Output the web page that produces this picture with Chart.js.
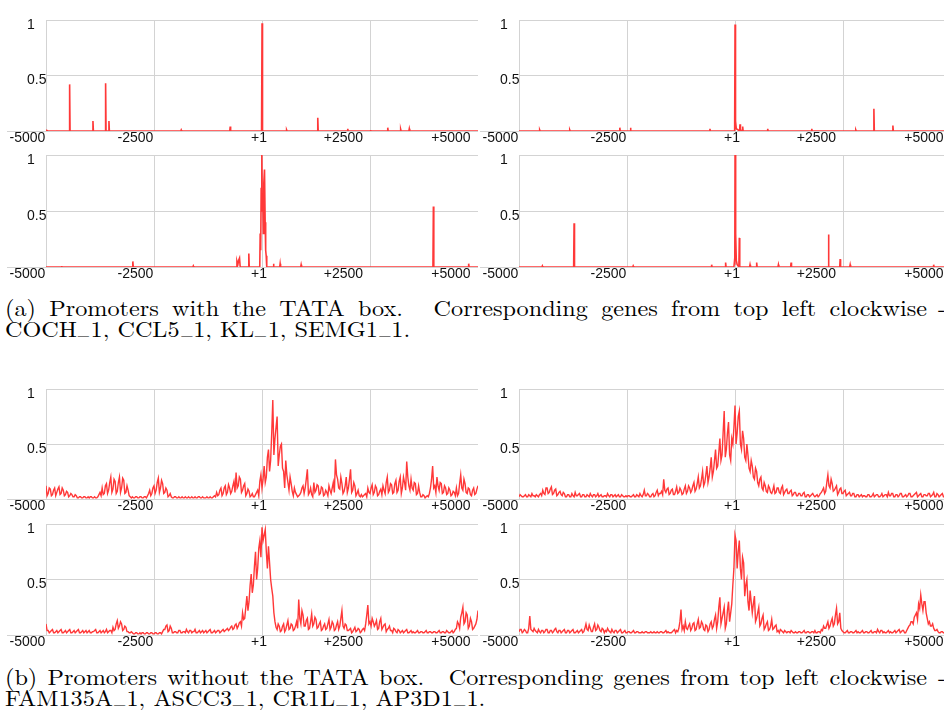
<!DOCTYPE html>
<html><head><meta charset="utf-8">
<script src="https://cdn.jsdelivr.net/npm/chart.js@4.4.0/dist/chart.umd.min.js"></script>
<style>
html,body{margin:0;padding:0;background:#fff;overflow:hidden;width:944px;height:716px;position:relative;}
.panel{position:absolute;}
.cap{position:absolute;left:5px;display:inline-block;font-family:"Latin Modern Roman","CMU Serif","Liberation Serif",serif;font-size:22px;line-height:22px;white-space:nowrap;color:#000;transform-origin:0 0;}
.us{display:inline-block;transform:translateY(-0.13em) scaleX(0.62);margin:0 -0.095em;}
</style></head><body>
<canvas id="c1" class="panel"></canvas>
<canvas id="c2" class="panel"></canvas>
<canvas id="c3" class="panel"></canvas>
<canvas id="c4" class="panel"></canvas>
<canvas id="c5" class="panel"></canvas>
<canvas id="c6" class="panel"></canvas>
<canvas id="c7" class="panel"></canvas>
<canvas id="c8" class="panel"></canvas>
<span class="cap" id="a1">(a) Promoters with the TATA box.&nbsp; Corresponding genes from top left clockwise</span>
<span class="cap" id="a1d">-</span>
<span class="cap" id="a2">COCH<span class="us">_</span>1, CCL5<span class="us">_</span>1, KL<span class="us">_</span>1, SEMG1<span class="us">_</span>1.</span>
<span class="cap" id="b1">(b) Promoters without the TATA box.&nbsp; Corresponding genes from top left clockwise</span>
<span class="cap" id="b1d">-</span>
<span class="cap" id="b2">FAM135A<span class="us">_</span>1, ASCC3<span class="us">_</span>1, CR1L<span class="us">_</span>1, AP3D1<span class="us">_</span>1.</span>
<script>
// ---------- tick labels ----------
const xTickValues = [-5000, -2500, 1, 2500, 5000];
const xTickLabels = ['-5000', '-2500', '+1', '+2500', '+5000'];
const yTickValues = [0, 0.5, 1];
const yTickLabels = ['', '0.5', '1'];

// ---------- TATA-box promoters (sparse spikes), [position, value] ----------
const cochPts = [[-5000,0.01],[-4960,0],[-4463,0],[-4453,0.42],[-4443,0],[-3923,0],[-3913,0.09],[-3903,0],
 [-3630,0],[-3620,0.43],[-3610,0],[-3553,0],[-3543,0.09],[-3533,0],[-1880,0],[-1870,0.01],[-1860,0],
 [-746,0],[-736,0.04],[-726,0],[-10,0],[1,0.97],[12,0],[560,0],[570,0.01],[580,0],
 [1281,0],[1291,0.12],[1301,0],[1975,0],[1985,0.02],[1995,0],[2500,0],[2510,0.01],[2520,0],
 [2901,0],[2911,0.03],[2921,0],[3200,0],[3210,0.015],[3220,0],[3400,0],[3410,0.02],[3420,0],[5000,0]];
const ccl5Pts = [[-5000,0],[-4531,0],[-4521,0.01],[-4511,0],[-3835,0],[-3825,0.01],[-3815,0],
 [-2676,0],[-2666,0.03],[-2656,0],[-2429,0],[-2419,0.03],[-2409,0],[-590,0],[-580,0.02],[-570,0],
 [-8,0],[1,0.96],[12,0.09],[30,0.02],[106,0],[116,0.06],[126,0.01],[168,0],[178,0.04],[188,0],
 [747,0],[757,0.02],[767,0],[1767,0],[1777,0.02],[1787,0],[2787,0],[2797,0.01],[2807,0],
 [3205,0],[3215,0.2],[3225,0],[3645,0],[3655,0.05],[3665,0],[5000,0]];
const klPts = [[-5000,0],[-4469,0],[-4459,0.01],[-4449,0],[-3735,0],[-3725,0.39],[-3715,0],
 [-2367,0],[-2357,0.01],[-2347,0],[-551,0],[-541,0.02],[-531,0],[-227,0],[-217,0.04],[-207,0],
 [-25,0],[-15,0.04],[-5,0.02],[1,1.0],[15,0.3],[30,0.06],[50,0.02],[90,0],[100,0.26],[110,0],
 [338,0],[348,0.02],[358,0],[492,0],[502,0.04],[512,0],[995,0],[1005,0.02],[1015,0],
 [1288,0],[1298,0.04],[1308,0],[2154,0],[2164,0.29],[2174,0],[2424,0],[2434,0.07],[2444,0],
 [2656,0],[2666,0.02],[2676,0],[4588,0],[4598,0.02],[4608,0],[5000,0]];
const semg1Pts = [[-5000,0],[-4650,0],[-4640,0.01],[-4630,0],[-3000,0],[-2990,0.05],[-2980,0],
 [-1600,0],[-1590,0.01],[-1580,0],[-590,0],[-580,0.05],[-560,0.02],[-540,0.06],[-520,0.08],[-505,0],
 [-315,0],[-305,0.12],[-295,0],[-52,0],[-42,0.3],[-30,0.15],[-19,0.7],[-4,1.0],[8,0.5],[19,0.6],
 [30,0.3],[42,0.75],[58,0.87],[73,0.4],[85,0.15],[97,0.1],[110,0],[256,0],[266,0.03],[276,0],
 [410,0],[420,0.03],[430,0],[896,0],[906,0.02],[916,0],[3957,0],[3967,0.54],[3977,0],
 [4774,0],[4784,0.03],[4794,0],[5000,0]];

// ---------- promoters without TATA box ----------
// values at -5000, -4950, ... +5000 (every 50 bp)
const fam135aVals = [
 0.12,0.05,0.09,0.04,0.1,0.06,0.11,0.05,0.08,0.04,
 0.06,0.03,0.04,0.02,0.03,0.01,0.02,0.01,0.02,0.01,
 0.01,0.02,0.01,0.01,0.02,0.06,0.1,0.05,0.14,0.08,
 0.2,0.09,0.16,0.07,0.2,0.1,0.17,0.06,0.08,0.02,
 0.02,0.01,0.02,0.01,0.02,0.01,0.02,0.03,0.08,0.05,
 0.12,0.08,0.19,0.1,0.14,0.06,0.08,0.03,0.02,0.01,
 0.02,0.01,0.01,0.02,0.01,0.01,0.02,0.01,0.01,0.02,
 0.01,0.02,0.01,0.01,0.01,0.01,0.02,0.01,0.03,0.06,
 0.04,0.1,0.05,0.12,0.06,0.1,0.07,0.16,0.24,0.12,
 0.18,0.08,0.14,0.05,0.07,0.03,0.02,0.04,0.08,0.16,
 0.1,0.3,0.2,0.45,0.35,0.9,0.55,0.75,0.4,0.5,
 0.25,0.35,0.15,0.2,0.07,0.1,0.04,0.03,0.06,0.12,
 0.1,0.27,0.06,0.04,0.15,0.08,0.12,0.05,0.1,0.04,
 0.06,0.12,0.05,0.15,0.36,0.18,0.09,0.14,0.07,0.2,
 0.1,0.27,0.08,0.12,0.05,0.03,0.04,0.03,0.05,0.1,
 0.05,0.13,0.06,0.1,0.04,0.09,0.12,0.05,0.2,0.08,
 0.13,0.06,0.17,0.08,0.2,0.1,0.15,0.34,0.12,0.18,
 0.08,0.14,0.05,0.06,0.02,0.03,0.02,0.02,0.1,0.3,
 0.12,0.2,0.08,0.14,0.06,0.1,0.05,0.08,0.04,0.06,
 0.1,0.05,0.22,0.08,0.14,0.05,0.09,0.03,0.1,0.05,
 0.12];
// values at -4975, -4925, ... +4975 (between the 50 bp points)
const fam135aMid = [
 0.03,0.1,0.03,0.08,0.03,0.09,0.04,0.1,0.03,0.07,
 0.02,0.05,0.02,0.04,0.01,0.02,0.01,0.02,0.01,0.02,
 0.02,0.01,0.02,0.01,0.04,0.03,0.04,0.12,0.05,0.15,
 0.06,0.18,0.05,0.15,0.06,0.19,0.05,0.12,0.03,0.01,
 0.01,0.02,0.01,0.02,0.01,0.02,0.01,0.05,0.03,0.1,
 0.05,0.15,0.06,0.17,0.05,0.1,0.02,0.05,0.01,0.02,
 0.01,0.02,0.01,0.01,0.02,0.01,0.01,0.02,0.01,0.01,
 0.02,0.01,0.02,0.01,0.02,0.01,0.01,0.02,0.02,0.03,
 0.08,0.03,0.1,0.04,0.13,0.05,0.12,0.06,0.1,0.2,
 0.06,0.12,0.03,0.09,0.02,0.05,0.02,0.06,0.03,0.22,
 0.18,0.15,0.38,0.25,0.6,0.4,0.65,0.3,0.48,0.28,
 0.1,0.22,0.08,0.14,0.03,0.06,0.02,0.04,0.1,0.05,
 0.18,0.04,0.1,0.02,0.06,0.13,0.04,0.11,0.03,0.08,
 0.03,0.08,0.1,0.06,0.22,0.1,0.2,0.05,0.12,0.06,
 0.18,0.06,0.15,0.03,0.08,0.02,0.02,0.04,0.02,0.06,
 0.1,0.04,0.12,0.03,0.07,0.04,0.08,0.15,0.06,0.14,
 0.05,0.14,0.06,0.16,0.05,0.2,0.08,0.2,0.08,0.1,
 0.15,0.04,0.12,0.02,0.04,0.01,0.03,0.05,0.18,0.1,
 0.06,0.12,0.15,0.05,0.12,0.04,0.1,0.03,0.07,0.03,
 0.03,0.14,0.1,0.18,0.06,0.1,0.04,0.08,0.04,0.09];
const ascc3Vals = [
 0.02,0.03,0.02,0.04,0.02,0.03,0.05,0.03,0.04,0.02,
 0.05,0.08,0.04,0.1,0.06,0.11,0.05,0.09,0.04,0.07,
 0.03,0.05,0.02,0.04,0.02,0.03,0.06,0.03,0.05,0.02,
 0.04,0.02,0.03,0.05,0.02,0.04,0.03,0.02,0.04,0.02,
 0.03,0.05,0.02,0.04,0.03,0.02,0.04,0.02,0.03,0.02,
 0.02,0.03,0.02,0.04,0.02,0.03,0.05,0.02,0.08,0.03,
 0.04,0.02,0.05,0.03,0.08,0.05,0.07,0.18,0.06,0.1,
 0.05,0.09,0.04,0.11,0.06,0.08,0.05,0.12,0.07,0.1,
 0.08,0.15,0.09,0.2,0.12,0.25,0.15,0.3,0.2,0.38,
 0.25,0.45,0.3,0.55,0.4,0.8,0.45,0.7,0.35,0.5,
 0.85,0.6,0.8,0.45,0.55,0.35,0.4,0.25,0.3,0.18,
 0.25,0.12,0.2,0.08,0.12,0.06,0.1,0.05,0.12,0.06,
 0.1,0.05,0.12,0.06,0.09,0.05,0.08,0.04,0.06,0.03,
 0.05,0.03,0.06,0.02,0.04,0.03,0.05,0.02,0.04,0.03,
 0.06,0.1,0.07,0.22,0.1,0.14,0.08,0.12,0.06,0.1,
 0.05,0.08,0.04,0.06,0.03,0.05,0.02,0.04,0.03,0.02,
 0.03,0.02,0.04,0.02,0.05,0.03,0.04,0.02,0.05,0.03,
 0.04,0.06,0.03,0.05,0.02,0.04,0.03,0.05,0.02,0.04,
 0.03,0.05,0.02,0.04,0.06,0.03,0.05,0.02,0.04,0.03,
 0.05,0.03,0.06,0.02,0.04,0.03,0.05,0.02,0.04,0.03,
 0.04];
const ascc3Mid = [
 0.04,0.02,0.03,0.02,0.04,0.02,0.03,0.02,0.03,0.04,
 0.03,0.05,0.1,0.05,0.09,0.04,0.08,0.03,0.06,0.04,
 0.06,0.02,0.04,0.02,0.05,0.02,0.03,0.04,0.02,0.04,
 0.02,0.04,0.02,0.03,0.04,0.02,0.05,0.03,0.02,0.03,
 0.02,0.03,0.04,0.02,0.04,0.03,0.02,0.04,0.02,0.03,
 0.03,0.02,0.03,0.02,0.04,0.02,0.03,0.04,0.03,0.05,
 0.02,0.04,0.02,0.06,0.03,0.05,0.04,0.08,0.09,0.04,
 0.08,0.04,0.07,0.05,0.1,0.04,0.09,0.05,0.12,0.06,
 0.12,0.07,0.14,0.1,0.18,0.12,0.22,0.15,0.28,0.2,
 0.35,0.28,0.42,0.35,0.6,0.38,0.6,0.4,0.55,0.65,
 0.5,0.75,0.5,0.62,0.38,0.5,0.28,0.35,0.2,0.28,
 0.15,0.18,0.1,0.15,0.07,0.12,0.06,0.08,0.05,0.1,
 0.06,0.1,0.04,0.08,0.05,0.07,0.03,0.06,0.03,0.05,
 0.03,0.05,0.02,0.04,0.02,0.04,0.03,0.03,0.02,0.05,
 0.08,0.05,0.15,0.12,0.18,0.07,0.1,0.04,0.09,0.05,
 0.07,0.03,0.05,0.03,0.05,0.02,0.04,0.02,0.04,0.03,
 0.02,0.04,0.02,0.03,0.02,0.04,0.02,0.03,0.02,0.04,
 0.02,0.03,0.05,0.02,0.04,0.02,0.05,0.02,0.03,0.02,
 0.05,0.02,0.03,0.05,0.02,0.04,0.02,0.04,0.03,0.05,
 0.02,0.04,0.02,0.05,0.02,0.04,0.02,0.03,0.02,0.05];
const ap3d1Vals = [
 0.1,0.04,0.03,0.05,0.02,0.04,0.03,0.05,0.02,0.04,
 0.03,0.05,0.02,0.04,0.03,0.05,0.02,0.04,0.03,0.02,
 0.04,0.02,0.03,0.05,0.02,0.04,0.03,0.02,0.05,0.03,
 0.04,0.07,0.05,0.13,0.08,0.1,0.05,0.07,0.03,0.02,
 0.02,0.01,0.02,0.01,0.01,0.02,0.01,0.02,0.01,0.02,
 0.01,0.02,0.01,0.02,0.03,0.05,0.09,0.04,0.06,0.02,
 0.03,0.02,0.04,0.02,0.03,0.05,0.02,0.04,0.03,0.05,
 0.02,0.04,0.03,0.02,0.04,0.03,0.05,0.02,0.04,0.03,
 0.04,0.03,0.05,0.04,0.06,0.05,0.08,0.06,0.1,0.08,
 0.12,0.2,0.15,0.35,0.3,0.55,0.45,0.75,0.6,0.85,
 0.97,0.9,0.75,0.8,0.5,0.35,0.12,0.05,0.08,0.04,
 0.1,0.05,0.13,0.06,0.09,0.05,0.12,0.32,0.1,0.18,
 0.08,0.15,0.06,0.19,0.1,0.14,0.07,0.12,0.05,0.1,
 0.06,0.14,0.07,0.1,0.05,0.12,0.08,0.22,0.06,0.09,
 0.04,0.06,0.03,0.07,0.04,0.05,0.03,0.06,0.1,0.27,
 0.12,0.15,0.08,0.13,0.06,0.15,0.07,0.1,0.05,0.08,
 0.04,0.06,0.03,0.05,0.02,0.04,0.03,0.05,0.02,0.04,
 0.03,0.02,0.04,0.02,0.03,0.02,0.04,0.02,0.03,0.02,
 0.03,0.02,0.04,0.02,0.03,0.02,0.03,0.02,0.04,0.03,
 0.06,0.1,0.16,0.25,0.12,0.18,0.08,0.12,0.06,0.1,
 0.22];
const ap3d1Mid = [
 0.04,0.02,0.04,0.02,0.03,0.02,0.04,0.02,0.03,0.02,
 0.04,0.02,0.03,0.02,0.04,0.02,0.03,0.02,0.04,0.03,
 0.02,0.03,0.04,0.02,0.03,0.02,0.04,0.03,0.02,0.04,
 0.02,0.04,0.1,0.06,0.12,0.04,0.08,0.03,0.02,0.03,
 0.01,0.02,0.01,0.02,0.02,0.01,0.02,0.01,0.02,0.01,
 0.02,0.01,0.02,0.01,0.05,0.08,0.03,0.08,0.02,0.03,
 0.02,0.04,0.02,0.03,0.02,0.03,0.04,0.02,0.03,0.02,
 0.03,0.02,0.04,0.03,0.02,0.04,0.02,0.03,0.02,0.04,
 0.02,0.04,0.03,0.05,0.04,0.07,0.05,0.09,0.06,0.11,
 0.08,0.14,0.25,0.22,0.45,0.38,0.62,0.5,0.78,0.7,
 0.85,0.95,0.6,0.65,0.42,0.2,0.07,0.1,0.03,0.08,
 0.03,0.09,0.05,0.1,0.04,0.08,0.06,0.15,0.22,0.08,
 0.13,0.05,0.12,0.08,0.16,0.06,0.1,0.04,0.08,0.05,
 0.1,0.05,0.12,0.04,0.09,0.05,0.15,0.08,0.1,0.04,
 0.05,0.02,0.05,0.03,0.06,0.02,0.05,0.04,0.18,0.1,
 0.08,0.12,0.1,0.05,0.12,0.05,0.09,0.03,0.06,0.04,
 0.02,0.05,0.02,0.04,0.03,0.02,0.04,0.02,0.03,0.02,
 0.02,0.03,0.02,0.03,0.02,0.03,0.02,0.03,0.02,0.03,
 0.02,0.03,0.02,0.03,0.02,0.04,0.02,0.03,0.02,0.05,
 0.12,0.06,0.2,0.1,0.2,0.06,0.15,0.05,0.08,0.14];
const cr1lVals = [
 0.03,0.05,0.03,0.04,0.02,0.17,0.04,0.06,0.03,0.05,
 0.02,0.04,0.03,0.05,0.02,0.04,0.03,0.06,0.02,0.04,
 0.03,0.05,0.02,0.04,0.03,0.05,0.02,0.04,0.03,0.05,
 0.03,0.1,0.04,0.06,0.03,0.1,0.05,0.07,0.03,0.05,
 0.04,0.06,0.03,0.05,0.02,0.04,0.03,0.05,0.02,0.04,
 0.02,0.03,0.02,0.04,0.02,0.03,0.02,0.03,0.02,0.03,
 0.02,0.03,0.02,0.02,0.03,0.02,0.03,0.02,0.04,0.03,
 0.02,0.03,0.05,0.04,0.06,0.23,0.08,0.12,0.05,0.1,
 0.06,0.11,0.05,0.14,0.07,0.1,0.04,0.08,0.05,0.12,
 0.08,0.18,0.12,0.34,0.15,0.25,0.1,0.3,0.2,0.45,
 0.9,0.6,0.85,0.5,0.65,0.45,0.3,0.4,0.2,0.35,
 0.15,0.25,0.1,0.18,0.07,0.12,0.05,0.14,0.06,0.09,
 0.04,0.05,0.03,0.04,0.02,0.03,0.04,0.02,0.03,0.02,
 0.03,0.02,0.04,0.02,0.03,0.02,0.03,0.04,0.02,0.03,
 0.05,0.08,0.06,0.12,0.08,0.15,0.1,0.24,0.12,0.06,
 0.03,0.02,0.04,0.02,0.03,0.02,0.04,0.03,0.02,0.04,
 0.02,0.03,0.02,0.04,0.02,0.03,0.05,0.02,0.04,0.03,
 0.02,0.04,0.03,0.02,0.04,0.03,0.05,0.03,0.04,0.02,
 0.06,0.09,0.12,0.16,0.2,0.28,0.36,0.22,0.3,0.15,
 0.12,0.08,0.06,0.04,0.03,0.02,0.03,0.02,0.03,0.02,
 0.02];
const cr1lMid = [
 0.05,0.02,0.05,0.02,0.06,0.05,0.03,0.04,0.02,0.03,
 0.04,0.02,0.05,0.02,0.04,0.02,0.05,0.03,0.04,0.02,
 0.04,0.02,0.04,0.02,0.04,0.02,0.03,0.02,0.04,0.02,
 0.06,0.05,0.09,0.03,0.07,0.04,0.09,0.04,0.06,0.02,
 0.03,0.04,0.02,0.03,0.04,0.02,0.04,0.02,0.03,0.02,
 0.03,0.02,0.03,0.02,0.03,0.02,0.02,0.02,0.03,0.02,
 0.02,0.02,0.03,0.02,0.02,0.03,0.02,0.03,0.02,0.02,
 0.02,0.04,0.02,0.03,0.12,0.05,0.04,0.06,0.08,0.04,
 0.1,0.04,0.1,0.06,0.12,0.05,0.09,0.03,0.1,0.06,
 0.14,0.06,0.25,0.1,0.2,0.06,0.22,0.12,0.28,0.6,
 0.85,0.75,0.6,0.7,0.35,0.5,0.22,0.3,0.28,0.12,
 0.2,0.08,0.15,0.05,0.1,0.04,0.08,0.05,0.08,0.03,
 0.02,0.04,0.02,0.03,0.03,0.02,0.03,0.02,0.02,0.03,
 0.02,0.03,0.02,0.03,0.02,0.03,0.02,0.02,0.03,0.02,
 0.04,0.06,0.09,0.06,0.12,0.08,0.18,0.1,0.2,0.04,
 0.02,0.03,0.02,0.03,0.02,0.03,0.02,0.02,0.03,0.02,
 0.03,0.02,0.03,0.02,0.03,0.02,0.03,0.04,0.02,0.02,
 0.03,0.02,0.02,0.03,0.02,0.04,0.02,0.04,0.02,0.04,
 0.08,0.12,0.1,0.18,0.14,0.24,0.28,0.3,0.2,0.1,
 0.08,0.1,0.04,0.05,0.02,0.03,0.02,0.03,0.02,0.03];
const binPositions = fam135aVals.map((_, i) => -5000 + 50 * i);

// ---------- layout / style ----------
const RED = '#ff3838';
const GRID = '#d3d3d3';
const TICK_FONT = {family: '"Liberation Sans", Arial, sans-serif', size: 14, lineHeight: 1};
const colLeft = [46, 519];
const rowTop = [14, 149, 383, 518];
const rowH = [117, 118, 116, 117];
const plotW = 432;
const xLabelShiftPx = [-18.5, -18.5, -3, -26.5, -27];

function toXY(pairs) { return pairs.map(p => ({x: p[0], y: p[1]})); }
function binsXY(vals, mids) {
  const out = [];
  vals.forEach((v, i) => {
    out.push({x: binPositions[i], y: v});
    if (i < mids.length) out.push({x: binPositions[i] + 25, y: mids[i]});
  });
  return out;
}

const panels = [
  {id: 'c1', col: 0, row: 0, data: toXY(cochPts), lw: 1.6},
  {id: 'c2', col: 1, row: 0, data: toXY(ccl5Pts), lw: 1.6},
  {id: 'c3', col: 0, row: 1, data: toXY(semg1Pts), lw: 1.6},
  {id: 'c4', col: 1, row: 1, data: toXY(klPts), lw: 1.6},
  {id: 'c5', col: 0, row: 2, data: binsXY(fam135aVals, fam135aMid), lw: 1.4},
  {id: 'c6', col: 1, row: 2, data: binsXY(ascc3Vals, ascc3Mid), lw: 1.4},
  {id: 'c7', col: 0, row: 3, data: binsXY(ap3d1Vals, ap3d1Mid), lw: 1.4},
  {id: 'c8', col: 1, row: 3, data: binsXY(cr1lVals, cr1lMid), lw: 1.4}
];

panels.forEach(p => {
  const cv = document.getElementById(p.id);
  const W = 46 + plotW, H = 4 + rowH[p.row] + 15;
  cv.width = W; cv.height = H;
  cv.style.width = W + 'px'; cv.style.height = H + 'px';
  cv.style.left = (colLeft[p.col] - 46) + 'px';
  cv.style.top = (rowTop[p.row] - 4) + 'px';
  new Chart(cv, {
    type: 'line',
    data: {datasets: [{data: p.data, borderColor: RED, borderWidth: p.lw, pointRadius: 0, tension: 0, fill: false, xAxisID: 'x', yAxisID: 'y'}]},
    options: {
      responsive: false, animation: false, devicePixelRatio: 1,
      layout: {padding: {left: 27, top: 4, right: 0, bottom: 0}, autoPadding: false},
      plugins: {legend: {display: false}, tooltip: {enabled: false}},
      scales: {
        x: {
          type: 'linear', position: 'bottom', min: -5000, max: 5000, weight: 0,
          afterBuildTicks: a => { a.ticks = xTickValues.map(v => ({value: v})); },
          afterFit: a => { a.height = 0; },
          ticks: {display: false},
          grid: {color: GRID, lineWidth: 1, drawTicks: false},
          border: {display: false}
        },
        xl: {
          type: 'linear', position: 'bottom', min: -5000, max: 5000, weight: 1,
          afterBuildTicks: a => { a.ticks = xTickValues.map((v, i) => ({value: v + xLabelShiftPx[i] * 10000 / plotW})); },
          afterFit: a => { a.height = 15; },
          ticks: {autoSkip: false, maxRotation: 0, padding: 0, color: '#111', font: TICK_FONT,
                  callback: (v, i) => xTickLabels[i]},
          grid: {display: false, drawTicks: false},
          border: {display: false}
        },
        y: {
          type: 'linear', min: 0, max: 1,
          afterBuildTicks: a => { a.ticks = yTickValues.map(v => ({value: v})); },
          afterFit: a => { a.width = 19; },
          ticks: {crossAlign: 'far', labelOffset: 5, color: '#111', font: TICK_FONT,
                  callback: (v, i) => yTickLabels[i]},
          grid: {color: GRID, lineWidth: 1, drawTicks: true, tickLength: 39,
                 tickColor: c => (c.tick && c.tick.value === 0) ? GRID : 'rgba(0,0,0,0)'},
          border: {display: false}
        }
      }
    }
  });
});

// ---------- captions ----------
const CAP_SCALE = 1.1;
const CAP_ASC = 20.6;
function placeLine(id, baseline, targetW) {
  const el = document.getElementById(id);
  el.style.top = (baseline - CAP_ASC) + 'px';
  el.style.wordSpacing = '0px';
  const w = el.getBoundingClientRect().width;
  if (targetW) {
    const n = (el.textContent.match(/[ \u00a0]/g) || []).length;
    el.style.wordSpacing = ((targetW / CAP_SCALE - w) / n) + 'px';
  }
  el.style.transform = 'scaleX(' + CAP_SCALE + ')';
}
placeLine('a1', 317, 922);
placeLine('a2', 338, 0);
placeLine('b1', 686, 922);
placeLine('b2', 707, 0);
['a1d', 'b1d'].forEach((id, k) => {
  const el = document.getElementById(id);
  el.style.left = '938px';
  el.style.top = ((k === 0 ? 317 : 686) - CAP_ASC) + 'px';
});
</script>
</body></html>
